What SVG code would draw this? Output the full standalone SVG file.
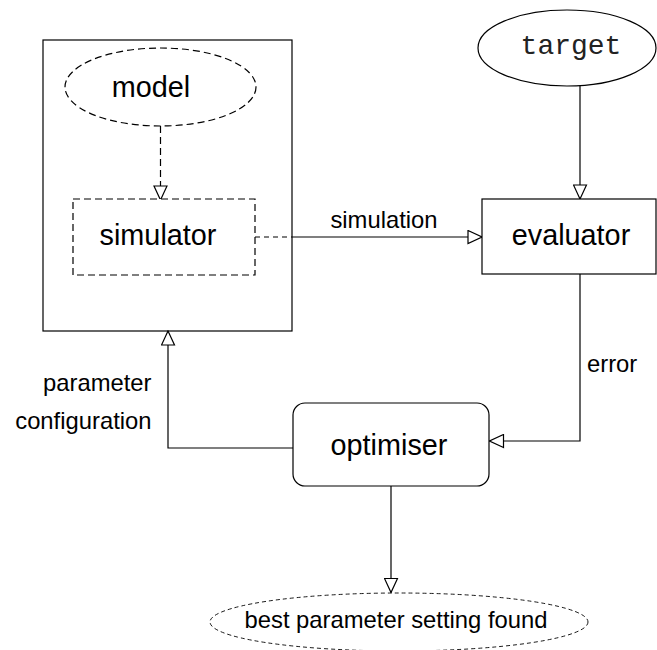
<svg xmlns="http://www.w3.org/2000/svg" width="657" height="650" viewBox="0 0 657 650">
  <style>
    .shape { fill: #fff; stroke: #000; stroke-width: 1.2; }
    .frame { fill: none; stroke: #000; stroke-width: 1.2; }
    .dash { stroke-dasharray: 7 4; }
    .fine { stroke-width: 0.9; stroke-dasharray: 4 3; }
    .edge { fill: none; stroke: #000; stroke-width: 1.2; }
    .node-text { font-family: "Liberation Sans", Arial, sans-serif; font-size: 28.8px; fill: #000; text-anchor: middle; }
    .mono { font-family: "Liberation Mono", "Courier New", monospace; font-size: 28px; fill: #222; text-anchor: middle; }
    .label { font-family: "Liberation Sans", Arial, sans-serif; font-size: 23.8px; fill: #000; }
  </style>
  <defs>
    <marker id="open-arrow" markerUnits="userSpaceOnUse" markerWidth="16" markerHeight="15" refX="14" refY="6.5" orient="auto" viewBox="-1 -1 16 15">
      <path d="M0,0 L14,6.5 L0,13 Z" fill="#fff" stroke="#000" stroke-width="1.2" stroke-dasharray="none"/>
    </marker>
  </defs>
  <rect width="657" height="650" fill="#fff"/>

  <!-- container holding model and simulator -->
  <g id="model-box">
    <rect class="frame" x="43" y="40" width="249" height="291"/>
  </g>

  <!-- connectors -->
  <g id="connectors">
    <path class="edge dash" d="M160.5,126 V200" marker-end="url(#open-arrow)"/>
    <path class="edge" d="M255,237 H292" stroke-dasharray="5 4"/>
    <path class="edge" d="M292,237 H482" marker-end="url(#open-arrow)"/>
    <path class="edge" d="M580,86 V199" marker-end="url(#open-arrow)"/>
    <path class="edge" d="M580,274 V441 H489.5" marker-end="url(#open-arrow)"/>
    <path class="edge" d="M293,448 H168 V331" marker-end="url(#open-arrow)"/>
    <path class="edge" d="M391,486 V592.5" marker-end="url(#open-arrow)"/>
    <text class="label" x="384" y="228" text-anchor="middle">simulation</text>
    <text class="label" x="587" y="372">error</text>
    <text class="label" x="151.5" y="391" text-anchor="end">parameter</text>
    <text class="label" x="151.5" y="429" text-anchor="end">configuration</text>
  </g>

  <g id="model">
    <ellipse class="shape dash" cx="160.5" cy="87" rx="95.5" ry="39"/>
    <text class="node-text" x="151" y="97">model</text>
  </g>

  <g id="simulator">
    <rect class="shape dash" x="73" y="199" width="182" height="76"/>
    <text class="node-text" x="158" y="245">simulator</text>
  </g>

  <g id="target">
    <ellipse class="shape" cx="567" cy="48" rx="89" ry="38"/>
    <text class="mono" x="571" y="54">target</text>
  </g>

  <g id="evaluator">
    <rect class="shape" x="482" y="199" width="174" height="75"/>
    <text class="node-text" x="571" y="245">evaluator</text>
  </g>

  <g id="optimiser">
    <rect class="shape" x="293" y="403" width="196" height="83" rx="12" ry="12"/>
    <text class="node-text" x="389" y="455">optimiser</text>
  </g>

  <g id="best-setting">
    <ellipse class="shape fine" cx="399" cy="622" rx="189" ry="29"/>
    <text class="label" x="396" y="628" text-anchor="middle">best parameter setting found</text>
  </g>
</svg>
